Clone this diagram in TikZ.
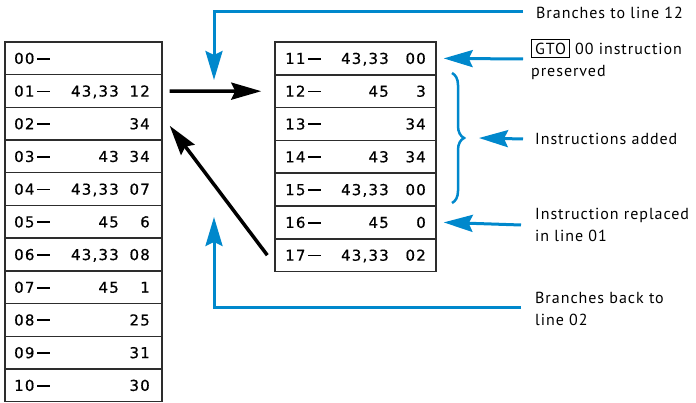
\documentclass[tikz,border=0pt]{standalone}
\usepackage{fontspec}
\setmainfont[LetterSpace=6]{PT Sans}
\newfontfamily\tabfont[LetterSpace=8,FakeBold=0.6]{DejaVu Sans}
\usetikzlibrary{arrows.meta,decorations.pathreplacing}
\definecolor{hpblue}{RGB}{0,136,204}
\definecolor{boxline}{RGB}{45,45,45}
\newcommand{\rowdash}{\rule[4.2pt]{13pt}{1.8pt}}
\begin{document}
\begin{tikzpicture}[x=1pt,y=-1pt,
  rowbox/.style={draw=boxline,line width=1.4pt,minimum height=32.7pt,inner sep=0pt},
  cell/.style={inner sep=0pt,font=\tabfont\fontsize{15}{17}\selectfont},
  lbl/.style={inner sep=0pt,anchor=west,align=left,font=\fontsize{16}{22}\selectfont},
  blk/.style={line width=3.5pt,-{Stealth[length=30pt,width=17pt,inset=4pt]}},
  blu/.style={draw=hpblue,line width=3pt,-{Stealth[length=29pt,width=17pt,inset=4pt]},color=hpblue},
  blul/.style={draw=hpblue,line width=3pt}]
\useasboundingbox (0,0) rectangle (696,403);
% left table
\foreach \i/\num/\a/\b in {0/00//,1/01/{43,33}/12,2/02//34,3/03/43/34,4/04/{43,33}/07,5/05/45/6,6/06/{43,33}/08,7/07/45/1,8/08//25,9/09//31,10/10//30}{
  \pgfmathsetmacro{\yc}{42+32.7*(\i+0.5)}
  \node[rowbox,minimum width=157pt] (L\num) at (83.5,\yc) {};
  \node[cell,anchor=base west] (L\num n) at (14,\yc+5.5) {\num\hspace{3pt}\rowdash};
  \node[cell,anchor=base east] (L\num a) at (119,\yc+5.5) {\a};
  \node[cell,anchor=base east] (L\num b) at (150,\yc+5.5) {\b};
}
% right table
\foreach \i/\num/\a/\b in {0/11/{43,33}/00,1/12/45/3,2/13//34,3/14/43/34,4/15/{43,33}/00,5/16/45/0,6/17/{43,33}/02}{
  \pgfmathsetmacro{\yc}{42+32.8*(\i+0.5)}
  \node[rowbox,minimum width=161pt] (R\num) at (355.5,\yc) {};
  \node[cell,anchor=base west] (R\num n) at (285,\yc+5.5) {\num\hspace{3pt}\rowdash};
  \node[cell,anchor=base east] (R\num a) at (389,\yc+5.5) {\a};
  \node[cell,anchor=base east] (R\num b) at (426,\yc+5.5) {\b};
}
% labels
\node[lbl] (lab1) at (536,13) {Branches to line 12};
\node[lbl] (lab2) at (531,59) {{\setlength{\fboxsep}{3pt}\setlength{\fboxrule}{1pt}\fbox{GTO}} 00 instruction\\preserved};
\node[lbl] (lab3) at (535,139) {Instructions added};
\node[lbl] (lab4) at (535,225) {Instruction replaced\\in line 01};
\node[lbl] (lab5) at (535,309) {Branches back to\\line 02};
% black arrows
\draw[blk] ([xshift=7pt]L01.east) -- ([xshift=-13pt]R12.west);
\draw[blk] ([xshift=-7pt]R17.west) -- ([xshift=7pt,yshift=-2pt]L02.east);
% blue
\coordinate (topTip) at (214,80);
\coordinate (botTip) at (214,217);
\draw[blu] ([xshift=-13pt,yshift=1pt]lab1.west) -| (topTip);
\draw[blu] ([xshift=-8pt]lab2.west) -- ([xshift=7pt]R11.east);
\coordinate (brTop) at (452,73);
\coordinate (brBot) at (452,203);
\draw[blul,line width=2.5pt,decorate,decoration={brace,amplitude=12pt}] (brTop) -- (brBot);
\coordinate (brTip) at (465,138);
\draw[blu] ([xshift=-12pt]lab3.west) -- ([xshift=14pt]brTip);
\draw[blu] ([xshift=-14pt]lab4.west) -- ([xshift=7pt]R16.east);
\draw[blu] ([xshift=-14pt,yshift=1pt]lab5.west) -| (botTip);
\end{tikzpicture}
\end{document}
